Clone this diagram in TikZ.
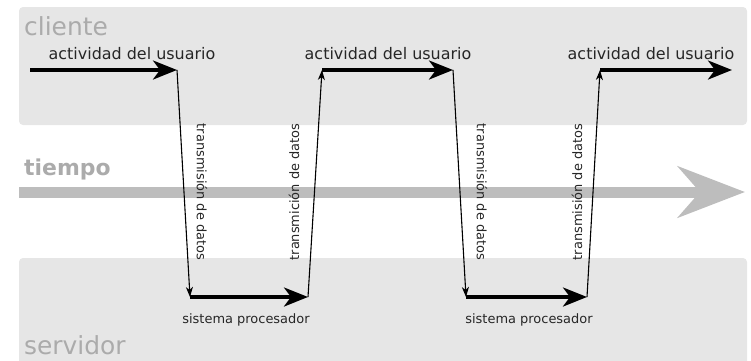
\documentclass[tikz,border=0pt]{standalone}
\usepackage{fontspec}
\setmainfont{DejaVu Sans}
\usetikzlibrary{arrows.meta}
\definecolor{banda}{HTML}{E6E6E6}
\definecolor{gristexto}{HTML}{ABABAB}
\definecolor{griseje}{HTML}{BDBDBD}
\tikzset{
  banda/.style     = {fill=banda, rounded corners=4bp},
  zona/.style      = {anchor=base west, inner sep=0pt, text=gristexto,
                      font=\fontsize{25}{30}\selectfont},
  actividad/.style = {line width=3.5bp, -{Stealth[length=24bp,width=19bp,inset=7bp]}},
  envio/.style     = {line width=1.1bp, -{Stealth[length=10bp,width=7bp,inset=3bp]}},
  eje/.style       = {line width=11bp, griseje,
                      -{Stealth[length=67bp,width=51bp,inset=22bp]}},
  rotulo/.style    = {anchor=base, inner sep=0pt, text=black!85,
                      font=\fontsize{16}{19}\selectfont},
  nota/.style      = {inner sep=0pt, text=black!85, font=\fontsize{13}{15}\selectfont}
}
\begin{document}
\begin{tikzpicture}[x=1bp,y=-1bp]
  \useasboundingbox (0,0) rectangle (751,360);
  \clip (0,0) rectangle (751,360);
  % bandas
  \fill[banda] (19,7)   rectangle (747,125);
  \fill[banda] (19,258) rectangle (747,372);
  \node[zona]                   (cliente)  at (24,35)  {cliente};
  \node[zona]                   (servidor) at (24,354) {servidor};
  \node[zona, font=\fontsize{22}{26}\selectfont\bfseries]
                                (tiempo)   at (24,175) {tiempo};
  % eje del tiempo
  \coordinate (t0) at (19,192);
  \coordinate (t1) at (745,192);
  \draw[eje] (t0) -- (t1);
  % puntos del recorrido
  \coordinate (c0) at (30,70);
  \coordinate (c1) at (177,70);   \coordinate (s1) at (190,297);
  \coordinate (s2) at (308,297);  \coordinate (c2) at (322,70);
  \coordinate (c3) at (453,70);   \coordinate (s3) at (466,297);
  \coordinate (s4) at (587,297);  \coordinate (c4) at (600,70);
  \coordinate (c5) at (732,70);
  % actividad y proceso
  \draw[actividad] (c0) -- (c1);
  \draw[actividad] (c2) -- (c3);
  \draw[actividad] (c4) -- (c5);
  \draw[actividad] (s1) -- (s2);
  \draw[actividad] (s3) -- (s4);
  % transmisiones
  \draw[envio] (c1) -- (s1);
  \draw[envio] (s2) -- (c2);
  \draw[envio] (c3) -- (s3);
  \draw[envio] (s4) -- (c4);
  % rotulos
  \node[rotulo] (act1) at (132,59) {actividad del usuario};
  \node[rotulo] (act2) at (388,59) {actividad del usuario};
  \node[rotulo] (act3) at (651,59) {actividad del usuario};
  \node[nota, anchor=base] (proc1) at (246,323) {sistema procesador};
  \node[nota, anchor=base] (proc2) at (529,323) {sistema procesador};
  \node[nota, rotate=-90] (baja1) at (202,192) {transmisión de datos};
  \node[nota, rotate=90]  (sube1) at (294,192) {transmición de datos};
  \node[nota, rotate=-90] (baja2) at (482,192) {transmisión de datos};
  \node[nota, rotate=90]  (sube2) at (577,192) {transmisión de datos};
\end{tikzpicture}
\end{document}
